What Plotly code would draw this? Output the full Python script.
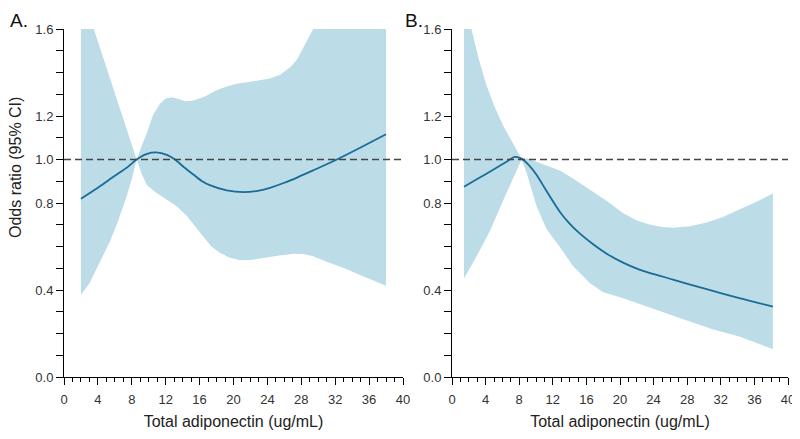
import plotly.graph_objects as go

# ---------------- data ----------------
# Panel A
a_line_x = [2, 4, 6, 7.5, 8.57, 9.8, 11.1, 12.2, 13.1, 14.2, 15.3, 16.3, 17.2, 19.2, 21.2, 23, 24.3, 26, 27.5, 29.4, 32.2, 35, 38]
a_line_y = [0.82, 0.87, 0.925, 0.965, 1.0, 1.026, 1.032, 1.02, 1.0, 0.963, 0.93, 0.9, 0.882, 0.858, 0.85, 0.857, 0.87, 0.893, 0.917, 0.95, 1.0, 1.055, 1.116]

a_up_x = [2, 3.5, 6, 8.57, 9.17, 9.8, 10.5, 11.3, 12, 12.7, 13.5, 14.3, 15.1, 16, 16.8, 18, 19.2, 20.4, 21.6, 23, 24.3, 25.5, 26.7, 27.5, 28.2, 29.4, 31, 34, 38]
a_up_y = [1.78, 1.6, 1.30, 1.0, 1.062, 1.124, 1.205, 1.255, 1.28, 1.286, 1.278, 1.268, 1.27, 1.28, 1.293, 1.318, 1.336, 1.348, 1.355, 1.362, 1.372, 1.39, 1.424, 1.46, 1.509, 1.6, 1.75, 1.9, 1.95]

a_lo_x = [2, 3, 3.86, 4.6, 5.43, 6.4, 7.4, 8.0, 8.57, 9.2, 9.8, 10.8, 12.1, 13.3, 14.5, 15.5, 16.4, 17.4, 18.4, 19.5, 20.8, 22, 23.1, 25, 27.1, 28.3, 29.4, 31, 33, 35.5, 38]
a_lo_y = [0.378, 0.43, 0.494, 0.555, 0.624, 0.72, 0.832, 0.91, 1.0, 0.93, 0.882, 0.85, 0.817, 0.785, 0.74, 0.69, 0.647, 0.60, 0.571, 0.55, 0.537, 0.538, 0.543, 0.556, 0.567, 0.565, 0.555, 0.53, 0.501, 0.46, 0.42]

# Panel B
b_line_x = [1.43, 3, 5, 6.5, 7.48, 8.28, 9.2, 10.06, 11.25, 12.83, 14, 15.2, 16.8, 18.37, 20.3, 22.3, 26.3, 30.2, 34.2, 38.2]
b_line_y = [0.875, 0.91, 0.955, 0.99, 1.012, 1.004, 0.972, 0.93, 0.855, 0.76, 0.705, 0.66, 0.61, 0.568, 0.527, 0.494, 0.448, 0.405, 0.363, 0.324]

b_up_x = [1.43, 2.3, 3.2, 4.12, 5.1, 6.1, 7.3, 8.28, 9.0, 10.06, 11.5, 12.83, 14.5, 16.4, 18.4, 20.3, 22, 23.5, 25, 26.3, 28.3, 30.2, 32.2, 34.2, 36.2, 38.2]
b_up_y = [1.74, 1.6, 1.46, 1.339, 1.24, 1.155, 1.07, 1.004, 1.005, 0.99, 0.97, 0.95, 0.91, 0.863, 0.81, 0.755, 0.72, 0.701, 0.69, 0.686, 0.693, 0.709, 0.735, 0.77, 0.805, 0.844]

b_lo_x = [1.43, 3, 4.5, 6.3, 8.28, 8.87, 10.06, 11.25, 12.8, 14.4, 16.4, 18, 20.3, 24.3, 28.3, 31, 34.2, 38.2]
b_lo_y = [0.453, 0.56, 0.67, 0.83, 1.0, 0.94, 0.786, 0.68, 0.6, 0.51, 0.432, 0.39, 0.363, 0.309, 0.255, 0.22, 0.186, 0.128]

x_title = "Total adiponectin (ug/mL)"
y_title = "Odds ratio (95% CI)"
y_tickvals = [0.0, 0.4, 0.8, 1.0, 1.2, 1.6]
y_ticktext = ["0.0", "0.4", "0.8", "1.0", "1.2", "1.6"]
panel_labels = ["A.", "B."]

# ---------------- style ----------------
BAND = "rgb(188,220,232)"
LINE = "rgb(24,108,150)"
FONT = "Liberation Sans, Arial, sans-serif"
W, H = 800, 439
OFF = 8  # page body margin offset
ML, MR, MT = 0, 0, 29 - OFF
PLOT_H = 348
MB = H - MT - PLOT_H

fig = go.Figure()

def add_panel(xa, ya, ux, uy, lx, ly, lnx, lny):
    fig.add_trace(go.Scatter(
        x=ux + lx[::-1], y=uy + ly[::-1], fill="toself", fillcolor=BAND,
        line=dict(width=0, color=BAND), mode="lines", hoverinfo="skip",
        xaxis=xa, yaxis=ya, showlegend=False))
    fig.add_trace(go.Scatter(
        x=lnx, y=lny, mode="lines", line=dict(color=LINE, width=1.8, shape="spline", smoothing=0.8),
        xaxis=xa, yaxis=ya, showlegend=False))

add_panel("x", "y", a_up_x, a_up_y, a_lo_x, a_lo_y, a_line_x, a_line_y)
add_panel("x2", "y2", b_up_x, b_up_y, b_lo_x, b_lo_y, b_line_x, b_line_y)

xcommon = dict(range=[0, 40], tickmode="linear", tick0=0, dtick=4, ticks="outside", ticklen=7,
               tickcolor="black", showline=True, linecolor="black", linewidth=1,
               showgrid=False, zeroline=False, automargin=False, ticklabelstandoff=3,
               tickfont=dict(family=FONT, size=13, color="#333"),
               minor=dict(tick0=0, dtick=1, ticks="outside", ticklen=4, tickcolor="black", showgrid=False),
               title=dict(text=x_title, font=dict(family=FONT, size=16, color="#222"), standoff=10))
ycommon = dict(range=[0, 1.6], tickmode="array", tickvals=y_tickvals, ticktext=y_ticktext,
               ticks="outside", ticklen=7, tickcolor="black", showline=True, linecolor="black",
               linewidth=1, showgrid=False, zeroline=False, automargin=False,
               tickfont=dict(family=FONT, size=13, color="#333"),
               minor=dict(tick0=0, dtick=0.1, ticks="outside", ticklen=7, tickcolor="black", showgrid=False))

fig.update_layout(
    width=W, height=H, margin=dict(l=ML, r=MR, t=MT, b=MB, autoexpand=False),
    plot_bgcolor="white", paper_bgcolor="white",
    xaxis=dict(domain=[(64 - OFF) / W, (403 - OFF) / W], anchor="y", **xcommon),
    yaxis=dict(domain=[0, 1], anchor="x", **ycommon),
    xaxis2=dict(domain=[(452 - OFF) / W, (788 - OFF) / W], anchor="y2", **xcommon),
    yaxis2=dict(domain=[0, 1], anchor="x2", **ycommon),
)

# reference lines at OR = 1
for xr, yr in [("x", "y"), ("x2", "y2")]:
    fig.add_shape(type="line", xref=xr, yref=yr, x0=0, x1=40, y0=1, y1=1,
                  line=dict(color="#444", width=1.5, dash="7px,4px"))

def py(page_y):
    return (MT + PLOT_H - (page_y - OFF)) / PLOT_H

fig.add_annotation(text=y_title, textangle=-90, xref="paper", yref="paper",
                   x=(15 - OFF) / W, y=py(168), xanchor="center", yanchor="middle",
                   showarrow=False, font=dict(family=FONT, size=16, color="#222"))
for lab, px in zip(panel_labels, [8, 403]):
    fig.add_annotation(text=lab, xref="paper", yref="paper", x=(px - OFF) / W,
                       y=py(8), xanchor="left", yanchor="top",
                       showarrow=False, font=dict(family=FONT, size=19, color="#111"))

fig.write_html("out.html")
